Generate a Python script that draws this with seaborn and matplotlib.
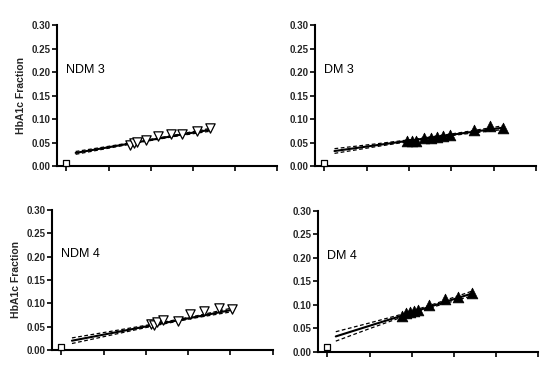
import numpy as np
import pandas as pd
import matplotlib
matplotlib.use("Agg")
import matplotlib.pyplot as plt
import seaborn as sns

# panel names
panels = ["NDM 3", "DM 3", "NDM 4", "DM 4"]

# blank (open square) point per panel
blank_x = [0.0, 0.0, 0.0, 0.0]
blank_y = [0.007, 0.007, 0.006, 0.011]

# measured points
ndm3_x = [7.6, 8.0, 8.4, 9.4, 10.9, 12.4, 13.7, 15.5, 17.0]
ndm3_y = [0.045, 0.050, 0.051, 0.056, 0.063, 0.068, 0.069, 0.074, 0.081]
dm3_x = [9.8, 10.4, 10.8, 11.8, 12.6, 13.3, 14.0, 14.8, 17.7, 19.6, 21.1]
dm3_y = [0.053, 0.054, 0.053, 0.060, 0.059, 0.062, 0.064, 0.067, 0.076, 0.085, 0.081]
ndm4_x = [10.6, 11.0, 11.3, 12.0, 13.8, 15.2, 16.9, 18.6, 20.2]
ndm4_y = [0.056, 0.053, 0.060, 0.064, 0.062, 0.077, 0.083, 0.089, 0.087]
dm4_x = [8.9, 9.3, 9.8, 10.3, 10.8, 12.1, 13.9, 15.5, 17.1]
dm4_y = [0.076, 0.082, 0.085, 0.087, 0.089, 0.099, 0.112, 0.116, 0.125]

# regression lines and 95% band half widths
ndm3_fit_x = [1.1, 5, 9, 13, 17]
ndm3_fit_y = [0.028, 0.040, 0.0525, 0.065, 0.077]
ndm3_ci = [0.003, 0.002, 0.0012, 0.0015, 0.003]
dm3_fit_x = [1.2, 6, 11, 16, 21.2]
dm3_fit_y = [0.032, 0.044, 0.0565, 0.069, 0.082]
dm3_ci = [0.005, 0.003, 0.0015, 0.002, 0.004]
ndm4_fit_x = [1.25, 6, 11, 16, 20.2]
ndm4_fit_y = [0.020, 0.0365, 0.054, 0.0713, 0.086]
ndm4_ci = [0.006, 0.004, 0.002, 0.002, 0.004]
dm4_fit_x = [1.0, 5, 9, 13, 17.1]
dm4_fit_y = [0.033, 0.0556, 0.078, 0.101, 0.124]
dm4_ci = [0.010, 0.006, 0.003, 0.003, 0.005]

pts = [(ndm3_x, ndm3_y), (dm3_x, dm3_y), (ndm4_x, ndm4_y), (dm4_x, dm4_y)]
fits = [(ndm3_fit_x, ndm3_fit_y, ndm3_ci), (dm3_fit_x, dm3_fit_y, dm3_ci),
        (ndm4_fit_x, ndm4_fit_y, ndm4_ci), (dm4_fit_x, dm4_fit_y, dm4_ci)]

sns.set_style("ticks")
plt.rcParams['font.family'] = ['Liberation Sans', 'DejaVu Sans']

fig = plt.figure(figsize=(5.6, 3.74), dpi=100)
# left, bottom, width, height (figure fractions)
boxes = [
    [0.102, 0.556, 0.393, 0.377],
    [0.5625, 0.556, 0.395, 0.377],
    [0.093, 0.064, 0.394, 0.375],
    [0.568, 0.059, 0.393, 0.377],
]

for i, name in enumerate(panels):
    ax = fig.add_axes(boxes[i])
    fx = np.array(fits[i][0])
    fy = np.array(fits[i][1])
    ci = np.array(fits[i][2])
    sns.lineplot(x=fx, y=fy + ci, ax=ax, color="black", lw=0.9, ls=(0, (3, 2)),
                 sort=False, estimator=None)
    sns.lineplot(x=fx, y=fy - ci, ax=ax, color="black", lw=0.9, ls=(0, (3, 2)),
                 sort=False, estimator=None)
    sns.lineplot(x=fx, y=fy, ax=ax, color="black", lw=1.5,
                 sort=False, estimator=None)

    px, py = pts[i]
    if name.startswith("NDM"):
        sns.scatterplot(x=px, y=py, ax=ax, marker="v", s=45, facecolor="white",
                        edgecolor="black", linewidth=0.9, zorder=3)
    else:
        sns.scatterplot(x=px, y=py, ax=ax, marker="^", s=60, color="black",
                        edgecolor="black", linewidth=0.5, zorder=3)
    sns.scatterplot(x=[blank_x[i]], y=[blank_y[i]], ax=ax, marker="s", s=16,
                    facecolor="white", edgecolor="black", linewidth=0.9,
                    zorder=4, clip_on=False)

    ax.text(0.0, 0.205, name, fontsize=9, va="center", ha="left", color="black")

    ax.set_xlim(-1.1, 25)
    ax.set_ylim(0, 0.30)
    ax.set_xticks([0, 5, 10, 15, 20, 25])
    ax.set_xticklabels([])
    ax.set_yticks([0, 0.05, 0.10, 0.15, 0.20, 0.25, 0.30])
    ax.set_yticklabels(["0.00", "0.05", "0.10", "0.15", "0.20", "0.25", "0.30"],
                       fontsize=7, fontweight="bold")
    ax.tick_params(axis="both", direction="out", width=1.2, length=3.5,
                   color="black", pad=1)
    for side in ["left", "bottom"]:
        ax.spines[side].set_linewidth(1.5)
        ax.spines[side].set_color("black")
    sns.despine(ax=ax)
    if i % 2 == 0:
        ax.set_ylabel("HbA1c Fraction", fontsize=7.5, fontweight="bold", labelpad=4)
    else:
        ax.set_ylabel("")
    ax.set_xlabel("")

fig.savefig("out.png", dpi=100)
plt.close()
